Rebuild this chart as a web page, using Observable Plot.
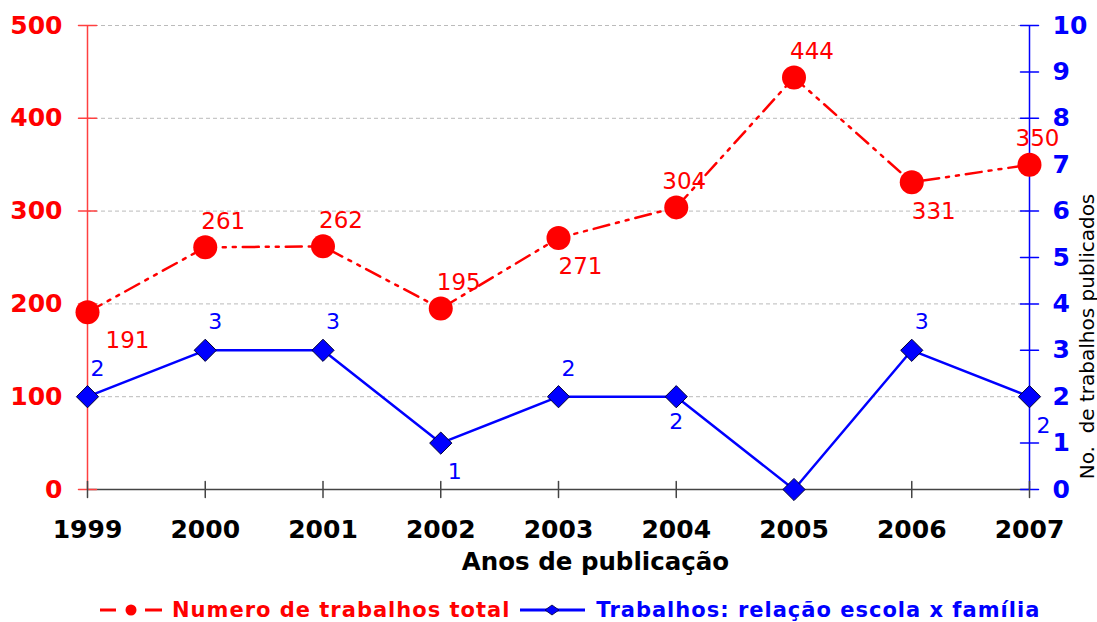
<!DOCTYPE html>
<html><head><meta charset="utf-8">
<script src="https://cdn.jsdelivr.net/npm/d3@7"></script>
<script src="https://cdn.jsdelivr.net/npm/@observablehq/plot@0.6"></script>
<style>
body{margin:0;background:#fff;font-family:"DejaVu Sans",sans-serif;}
#legend{display:flex;align-items:center;height:30px;margin-left:97px;font-family:"DejaVu Sans",sans-serif;font-weight:bold;font-size:21px;letter-spacing:1px;white-space:nowrap;}
</style></head><body>
<div id="chart"></div>
<div id="legend"></div>
<script>
const years = [1999, 2000, 2001, 2002, 2003, 2004, 2005, 2006, 2007];
const totalWorks = [191, 261, 262, 195, 271, 304, 444, 331, 350];
const familyWorks = [2, 3, 3, 1, 2, 2, 0, 3, 2];
const leftTicks = [0, 100, 200, 300, 400, 500];
const rightTicks = [0, 1, 2, 3, 4, 5, 6, 7, 8, 9, 10];
const gridTicks = [100, 200, 300, 400, 500];
const seriesNames = ["Numero de trabalhos total", "Trabalhos: relação escola x família"];
const xTitle = "Anos de publicação";
const rightTitle = "No.  de trabalhos publicados";
// label placement categories
const totalLabelPos = ["belowRight", "above", "above", "above", "below", "aboveCenter", "above", "below", "aboveCenter"];
const familyLabelPos = ["above", "above", "above", "below", "above", "belowCenter", "none", "above", "below"];

const ratio = 500 / 10;
const RED = "#ff0000", BLUE = "#0000ff";

const total = years.map((y, i) => ({year: y, value: totalWorks[i], pos: totalLabelPos[i]}));
const family = years.map((y, i) => ({year: y, value: familyWorks[i], scaled: familyWorks[i] * ratio, pos: familyLabelPos[i]}));

const tickShape = {draw(context, l) { context.moveTo(0, 0); context.lineTo(0, -l); }};

const redLabelStyles = {
  above: {textAnchor: "start", dx: -4, dy: -26},
  aboveCenter: {textAnchor: "middle", dx: 8, dy: -26},
  below: {textAnchor: "start", dx: 0, dy: 29},
  belowRight: {textAnchor: "start", dx: 18, dy: 28}
};
const blueLabelStyles = {
  above: {textAnchor: "start", dx: 3, dy: -28},
  below: {textAnchor: "start", dx: 7, dy: 29},
  belowCenter: {textAnchor: "middle", dx: 0, dy: 25}
};

const marks = [
  Plot.gridY(gridTicks, {stroke: "#bbbbbb", strokeOpacity: 1, strokeDasharray: "4,3"}),
  Plot.ruleY([0], {stroke: "#444444", strokeWidth: 1.5}),
  Plot.ruleX([years[0]], {stroke: "#ff4040", strokeWidth: 1.5}),
  Plot.ruleX([years[years.length - 1]], {stroke: BLUE, strokeWidth: 1.5}),
  Plot.vector(leftTicks, {y: d => d, frameAnchor: "left", length: 18, rotate: 90, shape: tickShape, stroke: "#ff4040", strokeWidth: 1.5}),
  Plot.vector(rightTicks, {y: d => d * ratio, frameAnchor: "right", length: 18, rotate: 90, shape: tickShape, stroke: BLUE, strokeWidth: 1.5}),
  Plot.vector(years, {x: d => d, frameAnchor: "bottom", length: 16, rotate: 0, shape: tickShape, stroke: "#444444", strokeWidth: 1.5}),
  Plot.axisY(leftTicks, {anchor: "left", tickSize: 0, tickPadding: 25, fill: RED, fontWeight: "bold", fontSize: 25, label: null}),
  Plot.axisY(rightTicks.map(d => d * ratio), {anchor: "right", tickSize: 0, tickPadding: 23, tickFormat: d => d / ratio, fill: BLUE, fontWeight: "bold", fontSize: 25, label: null}),
  Plot.axisX(years, {anchor: "bottom", tickSize: 0, tickPadding: 31, tickFormat: d => String(d), fill: "black", fontWeight: "bold", fontSize: 25, label: null}),
  Plot.text([xTitle], {frameAnchor: "bottom", textAnchor: "middle", lineAnchor: "middle", dx: 37, dy: 73, fontWeight: "bold", fontSize: 24.5, fill: "black"}),
  Plot.text([rightTitle], {frameAnchor: "right", textAnchor: "middle", lineAnchor: "middle", dx: 58, dy: 79, rotate: -90, fontSize: 20, fill: "black"}),
  Plot.line(total, {x: "year", y: "value", stroke: RED, strokeWidth: 2.5, strokeDasharray: "16,7,3,7,3,7"}),
  Plot.line(family, {x: "year", y: "scaled", stroke: BLUE, strokeWidth: 2.5}),
  Plot.dot(total, {x: "year", y: "value", r: 12, fill: RED, stroke: "none"}),
  Plot.dot(family, {x: "year", y: "scaled", r: 10, symbol: "diamond2", fill: BLUE, stroke: "#000033", strokeWidth: 1})
];
for (const [k, s] of Object.entries(redLabelStyles)) {
  marks.push(Plot.text(total.filter(d => d.pos === k), {x: "year", y: "value", text: d => String(d.value), fill: RED, fontSize: 23, ...s}));
}
for (const [k, s] of Object.entries(blueLabelStyles)) {
  marks.push(Plot.text(family.filter(d => d.pos === k), {x: "year", y: "scaled", text: d => String(d.value), fill: BLUE, fontSize: 22, ...s}));
}

const chart = Plot.plot({
  width: 1097,
  height: 595,
  marginTop: 25,
  marginBottom: 106,
  marginLeft: 87,
  marginRight: 68,
  x: {domain: [years[0], years[years.length - 1]]},
  y: {domain: [0, 500]},
  style: {fontFamily: "DejaVu Sans, sans-serif", background: "white", overflow: "visible"},
  marks
});
document.getElementById("chart").appendChild(chart);

const legend = document.getElementById("legend");
legend.innerHTML =
  `<svg width="68" height="20" style="flex:none"><line x1="3" y1="10" x2="19" y2="10" stroke="${RED}" stroke-width="3"/><circle cx="34" cy="10" r="5.5" fill="${RED}"/><line x1="48" y1="10" x2="65" y2="10" stroke="${RED}" stroke-width="3"/></svg>` +
  `<span style="color:${RED};margin-left:7px">${seriesNames[0]}</span>` +
  `<svg width="66" height="20" style="flex:none;margin-left:10px"><line x1="0" y1="10" x2="65" y2="10" stroke="${BLUE}" stroke-width="3"/><path d="M32,5 L39,10 L32,15 L25,10 Z" fill="${BLUE}" stroke="#000033" stroke-width="0.8"/></svg>` +
  `<span style="color:${BLUE};margin-left:10px">${seriesNames[1]}</span>`;
</script>
</body></html>
